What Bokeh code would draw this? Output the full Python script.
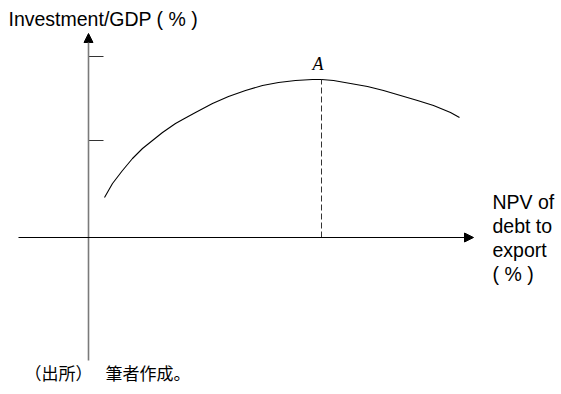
from bokeh.plotting import figure
from bokeh.models import Range1d, Arrow, NormalHead
from bokeh.core.properties import value
from bokeh.embed import file_html
from bokeh.resources import INLINE

# ---- data ----
curve_x = [16, 24, 34, 44, 54, 64, 74, 87, 96, 107, 124, 140, 157, 174, 190,
           207, 224, 233, 245, 262, 279, 295, 312, 329, 345, 362, 371]
curve_y = [40, 54, 67, 79, 89, 97, 105, 114, 119, 125, 134, 141, 147, 152, 155,
           157, 158, 158, 157, 154, 151, 147, 142, 137, 132, 125, 120]
peak_x = 233
peak_y = 158
tick_y = [181, 97]
tick_len = 15

y_label = "Investment/GDP ( % )"
x_label_lines = ["NPV of", "debt to", "export", "( % )"]
peak_label = "A"
source_head = "（出所）"
source_body = "筆者作成。"

W, H = 561, 394
p = figure(width=W, height=H, output_backend="svg", toolbar_location=None,
           x_range=Range1d(-88, 473), y_range=Range1d(-157, 237),
           min_border=0, outline_line_color=None)
p.axis.visible = False
p.grid.visible = False
p.background_fill_color = "white"
p.border_fill_color = "white"

# axes
p.add_layout(Arrow(end=NormalHead(size=9, fill_color="black", line_color="black", line_width=1),
                   x_start=0, y_start=-123, x_end=0, y_end=204,
                   line_color="#7a7a7a", line_width=1.6))
p.add_layout(Arrow(end=NormalHead(size=9, fill_color="black", line_color="black", line_width=1),
                   x_start=-70, y_start=0, x_end=385, y_end=0,
                   line_color="black", line_width=1.1))

# ticks on the vertical axis
p.segment(x0=[0] * len(tick_y), y0=tick_y, x1=[tick_len] * len(tick_y), y1=tick_y,
          line_color="#333333", line_width=1)

# curve
p.line(curve_x, curve_y, line_color="black", line_width=1.1)

# dashed line at the peak
p.segment(x0=[peak_x], y0=[0], x1=[peak_x], y1=[peak_y],
          line_color="#333333", line_width=1, line_dash="6 3")

# labels
p.text(x=[-80], y=[219], text=[y_label], text_font=value("Liberation Sans"),
       text_font_size="19.5px", text_baseline="alphabetic", text_color="black")
p.text(x=[229.5], y=[174], text=[peak_label], text_font=value("Liberation Serif"),
       text_font_style="italic", text_font_size="18px", text_align="center",
       text_baseline="alphabetic", text_color="black")
lab_y = [36, 12, -12, -36]
p.text(x=[404] * 4, y=lab_y, text=x_label_lines, text_font=value("Liberation Sans"),
       text_font_size="19.5px", text_baseline="alphabetic", text_color="black")
p.text(x=[-64, 17], y=[-135, -135], text=[source_head, source_body],
       text_font=value("Noto Sans CJK JP"),
       text_font_size="17px", text_baseline="alphabetic", text_color="black")

open("out.html", "w").write(file_html(p, INLINE))
